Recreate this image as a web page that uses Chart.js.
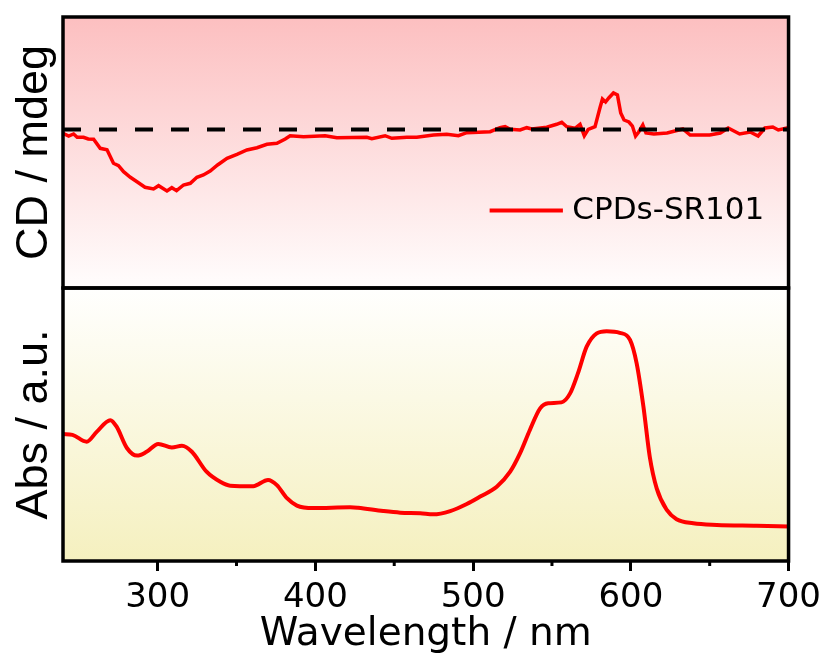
<!DOCTYPE html>
<html><head><meta charset="utf-8">
<script src="https://cdn.jsdelivr.net/npm/chart.js@4.4.1/dist/chart.umd.min.js"></script>
<style>html,body{margin:0;padding:0;background:#fff}#wrap{position:relative;width:828px;height:662px}</style>
</head><body><div id="wrap"><canvas id="c" width="828" height="662"></canvas></div>
<script>
// ---- data ----
const seriesLabel = 'CPDs-SR101';
const xMin = 240, xMax = 700;
const cdWavelength = [240,243.6,246.7,249,253,256,259.4,263.6,267.9,272,275.2,278.4,282.7,286.9,292,297.4,300.6,305.9,309,312,316.4,320.7,324.9,329,333.3,338,344,350.3,356.6,363,369.3,375.6,380.9,384,392.5,406.2,413.6,432.6,435.8,444.2,448.5,458,464.3,474.9,483.3,490.7,496,510.8,517,520.3,523.5,529.8,534,537.2,546.7,553,556.2,559.4,564.6,567.8,570.5,573,577.3,580.4,582,584,586,589,591.5,593.6,595.7,598.8,601,603,605,607.6,609.6,614.6,623,633,637.6,650,656.7,661.7,669,675.7,680.7,685,690,693.5,699,700];
const cdValues = [-0.38,-0.65,-0.45,-0.78,-0.78,-0.95,-0.98,-1.88,-2.02,-3.38,-3.62,-4.22,-4.78,-5.22,-5.78,-5.95,-5.62,-6.15,-5.82,-6.12,-5.55,-5.38,-4.78,-4.55,-4.15,-3.55,-2.88,-2.48,-2.05,-1.82,-1.48,-1.38,-0.95,-0.62,-0.72,-0.62,-0.82,-0.78,-0.92,-0.62,-0.88,-0.78,-0.78,-0.55,-0.48,-0.62,-0.32,-0.22,0.18,0.28,0.02,-0.05,0.18,0.05,0.22,0.52,0.72,0.28,0.12,0.52,-0.62,0.02,0.28,2.15,3.05,2.75,3.15,3.65,3.45,1.65,0.95,0.75,0.35,-0.65,-0.25,0.45,-0.35,-0.45,-0.35,0.05,-0.55,-0.55,-0.35,0.15,-0.45,-0.25,-0.65,0.15,0.25,-0.05,0.15,0.15];
const cdRange = [-15.85, 11.25];
const absWavelength = [240,246,255,261.5,270,274,280.5,287,293,300.4,309,315.4,321.7,331,339.7,346,360.6,370,375.6,382,388.3,398.7,422,427,443,453.8,466.5,474.7,485.5,496,504.5,515,523.5,529.8,536,542.5,547.6,556,561.5,566.5,572,578.4,584.7,593,599.5,603.7,608,612,616.4,622.8,629,639.6,654.5,679.8,700];
const absValues = [46.5,46.2,43.7,47.4,51.6,49.2,41.4,38.6,40.0,42.9,41.6,42.2,40.0,32.7,29.0,27.6,27.4,29.7,27.8,23.0,20.3,19.4,19.7,19.5,18.3,17.7,17.5,17.1,18.3,20.9,23.6,27.2,32.7,39.5,48.0,55.9,57.8,58.1,61.4,68.8,78.5,83.4,84.2,83.6,81.0,72.4,56.5,38.2,26.6,18.7,15.3,13.8,13.2,12.9,12.6];
const absRange = [0, 100];
const zeroLine = [0, 0];

const zip = (xs, ys) => xs.map((x, i) => ({x, y: ys[i]}));

const panelBg = {
  id: 'panelBg',
  beforeDatasetsDraw(chart) {
    const {ctx, chartArea} = chart;
    const fills = [
      ['yCD', '#fcbfc0', '#fffdfd'],
      ['yAbs', '#fffffe', '#f5f0bf']
    ];
    ctx.save();
    for (const [id, c0, c1] of fills) {
      const s = chart.scales[id];
      const g = ctx.createLinearGradient(0, s.top, 0, s.bottom);
      g.addColorStop(0, c0); g.addColorStop(1, c1);
      ctx.fillStyle = g;
      ctx.fillRect(chartArea.left, s.top, chartArea.right - chartArea.left, s.bottom - s.top);
    }
    ctx.restore();
  },
  afterDraw(chart) {
    const {ctx, chartArea} = chart;
    ctx.save();
    ctx.strokeStyle = '#000';
    ctx.lineWidth = 3.5;
    for (const id of ['yCD', 'yAbs']) {
      const s = chart.scales[id];
      ctx.strokeRect(chartArea.left, s.top, chartArea.right - chartArea.left, s.bottom - s.top);
    }
    // minor ticks
    const xs = chart.scales.x;
    ctx.lineWidth = 3;
    ctx.beginPath();
    for (const t of xs.ticks) {
      if (t.value % 100 !== 0) {
        const px = xs.getPixelForValue(t.value);
        ctx.moveTo(px, chartArea.bottom);
        ctx.lineTo(px, chartArea.bottom + 5);
      }
    }
    ctx.stroke();
    // legend
    const s = chart.scales.yCD;
    const w = chartArea.right - chartArea.left;
    const ly = s.top + (s.bottom - s.top) * 0.714;
    const ds = chart.data.datasets[1];
    ctx.strokeStyle = ds.borderColor;
    ctx.lineWidth = 4;
    ctx.beginPath();
    ctx.moveTo(chartArea.left + w * 0.588, ly);
    ctx.lineTo(chartArea.left + w * 0.689, ly);
    ctx.stroke();
    ctx.fillStyle = '#000';
    ctx.font = '31px "DejaVu Sans"';
    ctx.textBaseline = 'middle';
    ctx.textAlign = 'left';
    ctx.fillText(ds.label, chartArea.left + w * 0.702, ly);
    ctx.restore();
  }
};

new Chart(document.getElementById('c'), {
  type: 'line',
  data: {
    datasets: [
      {label: 'zero', data: zip([xMin, xMax], zeroLine), yAxisID: 'yCD', borderColor: '#000', borderWidth: 4, borderDash: [18, 18], pointRadius: 0, order: 0},
      {label: seriesLabel, data: zip(cdWavelength, cdValues), yAxisID: 'yCD', borderColor: '#ff0000', borderWidth: 3.5, pointRadius: 0, tension: 0, order: 1},
      {label: seriesLabel + ' abs', data: zip(absWavelength, absValues), yAxisID: 'yAbs', borderColor: '#ff0000', borderWidth: 4, pointRadius: 0, cubicInterpolationMode: 'monotone', order: 1}
    ]
  },
  options: {
    responsive: false,
    animation: false,
    devicePixelRatio: 1,
    layout: {padding: {top: 17, right: 39, left: 0, bottom: 0}},
    plugins: {legend: {display: false}, tooltip: {enabled: false}},
    scales: {
      x: {
        type: 'linear', position: 'bottom', min: xMin, max: xMax,
        afterBuildTicks(s) { s.ticks = s.ticks.filter(t => t.value % 50 === 0); },
        ticks: {stepSize: 50, autoSkip: false, maxRotation: 0, padding: 7, color: '#000',
          font: {family: 'DejaVu Sans', size: 34, lineHeight: 1.2},
          callback: v => (v % 100 === 0 ? String(v) : '')},
        grid: {drawOnChartArea: false, color: '#000', lineWidth: 3, tickLength: 10,
          tickColor: c => (c.tick && c.tick.value % 100 === 0 ? '#000' : 'rgba(0,0,0,0)')},
        border: {display: false},
        title: {display: true, text: 'Wavelength / nm', color: '#000',
          font: {family: 'DejaVu Sans', size: 39, lineHeight: 1}, padding: {top: 0, bottom: 8}},
        afterFit(s) { s.height = 101; }
      },
      yAbs: {
        type: 'linear', position: 'left', stack: 'panels', stackWeight: 273,
        min: absRange[0], max: absRange[1],
        ticks: {display: false}, grid: {display: false}, border: {display: false},
        title: {display: true, text: 'Abs / a.u.', color: '#000',
          font: {family: 'Liberation Sans', size: 45, lineHeight: 1}, padding: {top: 12, bottom: 0}},
        afterFit(s) { s.width = 63; }
      },
      yCD: {
        type: 'linear', position: 'left', stack: 'panels', stackWeight: 271,
        min: cdRange[0], max: cdRange[1],
        ticks: {display: false}, grid: {display: false}, border: {display: false},
        title: {display: true, text: 'CD / mdeg', color: '#000',
          font: {family: 'Liberation Sans', size: 45, lineHeight: 1}, padding: {top: 12, bottom: 0}},
        afterFit(s) { s.width = 63; }
      }
    }
  },
  plugins: [panelBg]
});
</script>
</body></html>
